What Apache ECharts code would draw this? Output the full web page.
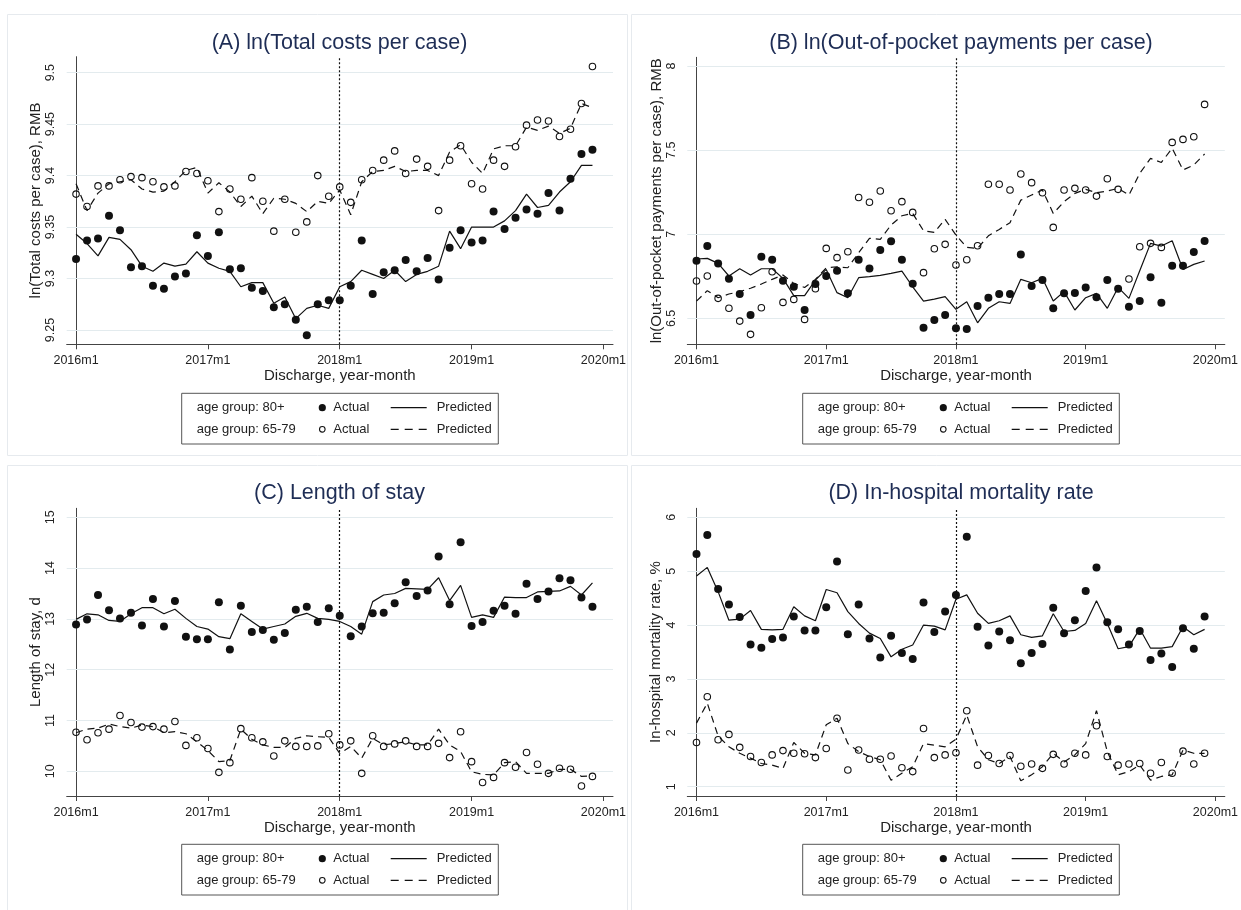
<!DOCTYPE html>
<html>
<head>
<meta charset="utf-8">
<title>Actual and predicted outcomes by age group</title>
<script src="https://cdn.jsdelivr.net/npm/echarts@6/dist/echarts.min.js"></script>
<style>
html, body { margin: 0; padding: 0; background: #fff; }
#main { width: 1241px; height: 910px; }
</style>
</head>
<body>
<div id="main"></div>
<script>
var FONT = '"Liberation Sans", Arial, sans-serif';
var INK = '#111';

// x axis: month index, 0 = 2016m1 ... 47 = 2019m12
var monthTicks = [0, 12, 24, 36, 48];
var monthTickLabels = ['2016m1', '2017m1', '2018m1', '2019m1', '2020m1'];
var policyMonth = 24; // 2018m1

// (A) ln(Total costs per case)
var aTicks = [9.25, 9.3, 9.35, 9.4, 9.45, 9.5];
var aOldActual = [9.319,9.337,9.339,9.361,9.347,9.311,9.312,9.293,9.290,9.302, 9.305,9.342,9.322,9.345,9.309,9.310,9.291,9.288,9.272,9.275,
  9.260,9.245,9.275,9.279,9.279,9.293,9.337,9.285,9.306,9.308, 9.318,9.307,9.320,9.299,9.330,9.347,9.335,9.337,9.365,9.348,
  9.359,9.367,9.363,9.383,9.366,9.397,9.421,9.425];
var aOldPred = [9.343,9.334,9.322,9.340,9.338,9.328,9.312,9.307,9.315,9.312, 9.314,9.326,9.315,9.310,9.307,9.292,9.296,9.296,9.276,9.282,
  9.261,9.271,9.274,9.271,9.292,9.297,9.308,9.304,9.300,9.308, 9.297,9.304,9.307,9.312,9.346,9.329,9.350,9.350,9.350,9.356,
  9.366,9.382,9.369,9.371,9.384,9.394,9.410,9.410];
var aYoungActual = [9.382,9.370,9.390,9.390,9.396,9.399,9.398,9.394,9.389,9.390, 9.404,9.402,9.395,9.365,9.387,9.377,9.398,9.375,9.346,9.377,
  9.345,9.355,9.400,9.380,9.389,9.374,9.396,9.405,9.415,9.424, 9.402,9.416,9.409,9.366,9.415,9.429,9.392,9.387,9.415,9.409,
  9.428,9.449,9.454,9.453,9.438,9.445,9.470,9.506];
var aYoungPred = [9.392,9.366,9.383,9.392,9.394,9.396,9.387,9.384,9.385,9.394, 9.405,9.408,9.383,9.393,9.384,9.370,9.380,9.363,9.378,9.377,
  9.373,9.365,9.375,9.373,9.386,9.362,9.394,9.404,9.405,9.409, 9.404,9.405,9.405,9.400,9.423,9.430,9.413,9.402,9.426,9.429,
  9.429,9.447,9.444,9.448,9.441,9.446,9.470,9.466];

// (B) ln(Out-of-pocket payments per case)
var bTicks = [6.5, 7, 7.5, 8];
var bOldActual = [6.843,6.930,6.827,6.736,6.645,6.520,6.867,6.849,6.724,6.688, 6.550,6.704,6.752,6.783,6.649,6.849,6.797,6.906,6.958,6.849,
  6.706,6.445,6.490,6.520,6.441,6.437,6.573,6.623,6.645,6.645, 6.880,6.692,6.728,6.560,6.649,6.651,6.684,6.625,6.728,6.676,
  6.569,6.603,6.744,6.593,6.813,6.813,6.894,6.960];
var bOldPred = [6.853,6.857,6.827,6.752,6.795,6.758,6.795,6.795,6.738,6.635, 6.635,6.728,6.791,6.653,6.623,6.742,6.748,6.756,6.768,6.781,
  6.688,6.603,6.615,6.629,6.554,6.599,6.474,6.560,6.599,6.589, 6.732,6.712,6.738,6.603,6.659,6.550,6.623,6.649,6.560,6.684,
  6.619,6.783,6.946,6.930,6.962,6.791,6.821,6.841];
var bYoungActual = [6.722,6.752,6.619,6.560,6.484,6.405,6.563,6.777,6.595,6.613, 6.494,6.676,6.916,6.861,6.896,7.219,7.190,7.257,7.140,7.194,
  7.130,6.772,6.914,6.940,6.817,6.849,6.932,7.297,7.297,7.263, 7.358,7.307,7.247,7.041,7.263,7.273,7.263,7.227,7.330,7.267,
  6.734,6.926,6.946,6.922,7.546,7.564,7.580,7.772];
var bYoungPred = [6.603,6.665,6.623,6.645,6.659,6.679,6.704,6.732,6.758,6.708, 6.684,6.732,6.801,6.807,6.801,6.890,6.976,6.970,7.055,7.110,
  7.124,7.021,7.011,7.089,6.995,6.922,6.916,6.991,7.029,7.069, 7.203,7.233,7.263,7.124,7.194,7.243,7.267,7.247,7.257,7.273,
  7.233,7.362,7.451,7.427,7.511,7.382,7.412,7.477];

// (C) Length of stay
var cTicks = [10, 11, 12, 13, 14, 15];
var cOldActual = [12.89,12.99,13.47,13.17,13.01,13.12,12.87,13.39,12.85,13.35, 12.65,12.60,12.60,13.33,12.40,13.26,12.74,12.78,12.59,12.72,
  13.18,13.24,12.94,13.21,13.06,12.66,12.85,13.11,13.12,13.31, 13.72,13.45,13.56,14.23,13.29,14.51,12.86,12.94,13.16,13.26,
  13.10,13.69,13.39,13.54,13.80,13.76,13.42,13.24];
var cOldPred = [12.99,13.10,13.08,12.97,12.95,13.10,13.22,13.22,13.10,13.19, 13.01,12.85,12.80,12.65,12.61,13.10,12.95,12.80,12.85,12.90,
  13.05,13.11,13.01,12.99,12.95,12.85,12.70,13.34,13.47,13.50, 13.60,13.59,13.58,13.81,13.36,13.66,13.03,13.08,13.03,13.43,
  13.42,13.42,13.53,13.54,13.55,13.64,13.47,13.71];
var cYoungActual = [10.77,10.62,10.76,10.83,11.10,10.96,10.87,10.88,10.83,10.98, 10.51,10.66,10.45,9.98,10.17,10.84,10.66,10.58,10.30,10.60,
  10.49,10.49,10.50,10.74,10.52,10.60,9.96,10.70,10.49,10.54, 10.60,10.49,10.49,10.55,10.27,10.78,10.19,9.78,9.88,10.17,
  10.08,10.37,10.14,9.96,10.06,10.04,9.71,9.90];
var cYoungPred = [10.76,10.83,10.85,10.93,10.88,10.85,10.91,10.88,10.76,10.78, 10.74,10.58,10.41,10.19,10.21,10.83,10.63,10.52,10.47,10.47,
  10.65,10.70,10.68,10.67,10.35,10.49,10.26,10.65,10.52,10.55, 10.58,10.52,10.52,10.83,10.52,10.39,9.99,9.94,9.93,10.17,
  10.19,9.96,9.96,9.96,10.04,10.04,9.90,9.91];

// (D) In-hospital mortality rate
var dTicks = [1, 2, 3, 4, 5, 6];
var dOldActual = [5.32,5.67,4.67,4.38,4.15,3.64,3.58,3.74,3.77,4.16, 3.90,3.90,4.33,5.18,3.83,4.38,3.75,3.40,3.80,3.48,
  3.37,4.42,3.87,4.25,4.56,5.64,3.97,3.62,3.88,3.72, 3.29,3.48,3.65,4.32,3.85,4.09,4.63,5.07,4.05,3.92,
  3.64,3.89,3.35,3.47,3.22,3.94,3.56,4.16];
var dOldPred = [4.91,5.07,4.62,4.09,4.11,4.27,3.92,3.91,3.92,4.34, 4.17,4.08,4.66,4.60,4.25,4.03,3.85,3.75,3.41,3.55,
  3.63,4.00,3.98,3.91,4.48,4.56,4.22,4.03,4.08,4.17, 3.82,3.77,3.80,4.21,3.88,3.90,4.03,4.45,4.03,3.56,
  3.60,3.93,3.57,3.57,3.60,3.97,3.82,3.92];
var dYoungActual = [1.82,2.67,1.87,1.97,1.73,1.56,1.45,1.59,1.67,1.62, 1.61,1.54,1.71,2.27,1.31,1.68,1.51,1.51,1.57,1.35,
  1.28,2.08,1.54,1.59,1.63,2.41,1.40,1.58,1.43,1.58, 1.38,1.42,1.34,1.60,1.42,1.62,1.59,2.13,1.56,1.40,
  1.42,1.43,1.25,1.45,1.25,1.66,1.42,1.62];
var dYoungPred = [2.18,2.55,1.94,1.74,1.62,1.53,1.43,1.40,1.34,1.82, 1.62,1.59,2.15,2.27,1.80,1.65,1.56,1.50,1.12,1.25,
  1.37,1.80,1.77,1.74,1.88,2.33,1.74,1.50,1.43,1.56, 1.11,1.22,1.37,1.62,1.46,1.59,1.80,2.41,1.65,1.22,
  1.28,1.40,1.12,1.19,1.22,1.68,1.62,1.62];

var panels = [
  { title: '(A) ln(Total costs per case)', yName: 'ln(Total costs per case), RMB', ticks: aTicks,
    oldActual: aOldActual, oldPred: aOldPred, youngActual: aYoungActual, youngPred: aYoungPred },
  { title: '(B) ln(Out-of-pocket payments per case)', yName: 'ln(Out-of-pocket payments per case), RMB', ticks: bTicks,
    oldActual: bOldActual, oldPred: bOldPred, youngActual: bYoungActual, youngPred: bYoungPred },
  { title: '(C) Length of stay', yName: 'Length of stay, d', ticks: cTicks,
    oldActual: cOldActual, oldPred: cOldPred, youngActual: cYoungActual, youngPred: cYoungPred },
  { title: '(D) In-hospital mortality rate', yName: 'In-hospital mortality rate, %', ticks: dTicks,
    oldActual: dOldActual, oldPred: dOldPred, youngActual: dYoungActual, youngPred: dYoungPred }
];

// layout of each panel (pixels) and the y range the plot region covers
var layout = [
  { grid: { left: 66.7, top: 56.7, width: 546.3, height: 287.6 }, ymin: 9.2361, ymax: 9.5155, nameGap: 23,
    titleX: 339.5, titleY: 43, legendX: 181.7, legendY: 393.3, frame: [7.5, 14.5, 620, 441] },
  { grid: { left: 687.3, top: 57.3, width: 547.7, height: 287 }, ymin: 6.346, ymax: 8.052, nameGap: 20,
    titleX: 961, titleY: 43, legendX: 802.7, legendY: 393.3, frame: [631.5, 14.5, 620, 441] },
  { grid: { left: 66.7, top: 508.3, width: 546.3, height: 287.7 }, ymin: 9.514, ymax: 15.177, nameGap: 23,
    titleX: 339.5, titleY: 493.3, legendX: 181.7, legendY: 844.3, frame: [7.5, 465.5, 620, 460] },
  { grid: { left: 687.3, top: 508.3, width: 547.7, height: 287.7 }, ymin: 0.827, ymax: 6.167, nameGap: 24,
    titleX: 961, titleY: 493.3, legendX: 802.7, legendY: 844.3, frame: [631.5, 465.5, 620, 460] }
];

function pairs(arr) {
  return arr.map(function (v, i) { return [i, v]; });
}

function legendBox(x, y) {
  function t(s, tx, ty) {
    return { type: 'text', x: tx, y: ty,
      style: { text: s, fontSize: 13, fontFamily: FONT, fill: '#222', verticalAlign: 'middle' } };
  }
  return { type: 'group', x: x, y: y, children: [
    { type: 'rect', shape: { x: 0, y: 0, width: 316.6, height: 50.7 }, style: { fill: '#fff', stroke: '#555', lineWidth: 1 } },
    t('age group: 80+', 15, 14.4),
    t('age group: 65-79', 15, 36),
    { type: 'circle', shape: { cx: 140.6, cy: 14.4, r: 3.6 }, style: { fill: INK } },
    { type: 'circle', shape: { cx: 140.6, cy: 36, r: 2.8 }, style: { fill: 'none', stroke: INK, lineWidth: 1.1 } },
    t('Actual', 151.6, 14.4),
    t('Actual', 151.6, 36),
    { type: 'line', shape: { x1: 209, y1: 14.4, x2: 245, y2: 14.4 }, style: { stroke: INK, lineWidth: 1.2 } },
    { type: 'line', shape: { x1: 209, y1: 36, x2: 245, y2: 36 }, style: { stroke: INK, lineWidth: 1.2, lineDash: [8, 6] } },
    t('Predicted', 255, 14.4),
    t('Predicted', 255, 36)
  ] };
}

var grids = [], xAxes = [], yAxes = [], series = [], graphics = [];

panels.forEach(function (p, k) {
  var L = layout[k];
  grids.push(L.grid);

  xAxes.push({
    type: 'value', gridIndex: k, min: -0.85, max: 48.87,
    name: 'Discharge, year-month', nameLocation: 'middle', nameGap: 22,
    nameTextStyle: { fontSize: 15, fontFamily: FONT, color: '#222' },
    axisLine: { lineStyle: { color: '#444', width: 1 } },
    axisTick: { customValues: monthTicks, length: 5, lineStyle: { color: '#444' } },
    axisLabel: { customValues: monthTicks, margin: 10, fontSize: 12.5, fontFamily: FONT, color: '#222',
      formatter: function (v) { return monthTickLabels[monthTicks.indexOf(Math.round(v))]; } },
    splitLine: { show: false }
  });

  yAxes.push({
    type: 'value', gridIndex: k, min: L.ymin, max: L.ymax,
    name: p.yName, nameLocation: 'middle', nameGap: L.nameGap,
    nameTextStyle: { fontSize: 15, fontFamily: FONT, color: '#222' },
    axisLine: { show: true, lineStyle: { color: '#444', width: 1 } },
    axisTick: { show: true, customValues: p.ticks, length: 5, lineStyle: { color: '#444' } },
    axisLabel: { customValues: p.ticks, rotate: 90, margin: 9.5, fontSize: 12.5, fontFamily: FONT, color: '#222',
      formatter: function (v) { return String(+v.toFixed(3)); } },
    splitLine: { show: false }
  });

  series.push({
    type: 'scatter', name: 'age group: 80+ Actual', xAxisIndex: k, yAxisIndex: k,
    data: pairs(p.oldActual), symbol: 'circle', symbolSize: 8,
    itemStyle: { color: INK, opacity: 1 },
    markLine: {
      silent: true, symbol: ['none', 'none'], z: 1, label: { show: false },
      lineStyle: { color: '#e3ebee', width: 1, type: 'solid' },
      data: p.ticks.map(function (v) { return { yAxis: v }; })
    }
  });
  series.push({
    type: 'line', name: 'age group: 80+ Predicted', xAxisIndex: k, yAxisIndex: k,
    data: pairs(p.oldPred), showSymbol: false, symbol: 'none',
    lineStyle: { color: INK, width: 1.2 },
    markLine: {
      silent: true, symbol: ['none', 'none'], label: { show: false },
      lineStyle: { color: '#111', width: 1.2, type: [2, 2] },
      data: [{ xAxis: policyMonth }]
    }
  });
  series.push({
    type: 'scatter', name: 'age group: 65-79 Actual', xAxisIndex: k, yAxisIndex: k,
    data: pairs(p.youngActual), symbol: 'circle', symbolSize: 6.5,
    itemStyle: { color: 'rgba(255,255,255,0)', borderColor: INK, borderWidth: 1.1, opacity: 1 }
  });
  series.push({
    type: 'line', name: 'age group: 65-79 Predicted', xAxisIndex: k, yAxisIndex: k,
    data: pairs(p.youngPred), showSymbol: false, symbol: 'none',
    lineStyle: { color: INK, width: 1.2, type: [7, 5] }
  });

  graphics.push({ type: 'rect', z: -1,
    shape: { x: L.frame[0], y: L.frame[1], width: L.frame[2], height: L.frame[3] },
    style: { fill: 'none', stroke: '#e6eaee', lineWidth: 1 } });
  graphics.push({ type: 'text', x: L.titleX, y: L.titleY,
    style: { text: p.title, fontSize: 21.5, fontFamily: FONT, fill: '#1e2d55', align: 'center', verticalAlign: 'middle' } });
  graphics.push(legendBox(L.legendX, L.legendY));
});

var chart = echarts.init(document.getElementById('main'));
chart.setOption({
  animation: false,
  backgroundColor: '#fff',
  grid: grids,
  xAxis: xAxes,
  yAxis: yAxes,
  series: series,
  graphic: graphics
});
</script>
</body>
</html>
